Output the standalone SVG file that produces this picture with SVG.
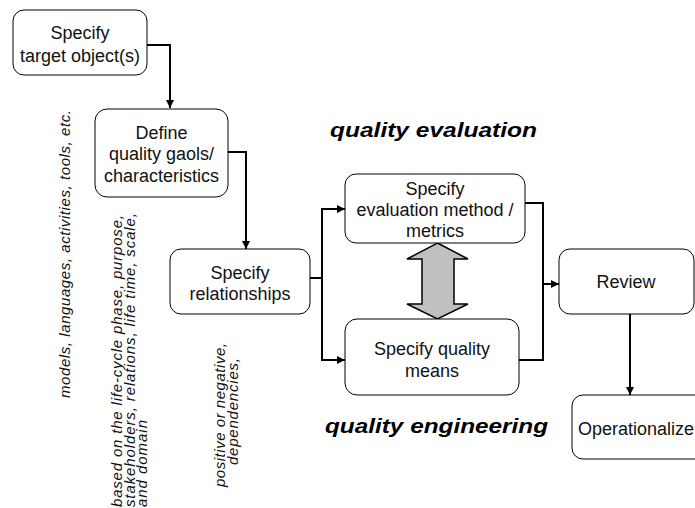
<svg xmlns="http://www.w3.org/2000/svg" width="695" height="508" viewBox="0 0 695 508">
<defs>
<style>
.box{fill:#fff;stroke:#000;stroke-width:1}
.t{font-family:"Liberation Sans",Arial,sans-serif;font-size:18px;fill:#111;text-anchor:middle}
.title{font-family:"Liberation Sans",Arial,sans-serif;font-size:21px;font-weight:bold;font-style:italic;fill:#000}
.note{font-family:"Liberation Sans",Arial,sans-serif;font-size:15px;font-style:italic;fill:#111}
.c{fill:none;stroke:#000;stroke-width:2}
</style>
<marker id="ah" viewBox="0 0 8 8" refX="8" refY="4" markerWidth="4" markerHeight="4" orient="auto-start-reverse" markerUnits="strokeWidth">
<path d="M0,0 L8,4 L0,8 Z" fill="#000"/>
</marker>
</defs>
<rect width="695" height="508" fill="#fff"/>
<g id="connectors">
<path class="c" d="M147,45 H170 V108" marker-end="url(#ah)"/>
<path class="c" d="M228,152 H246 V249" marker-end="url(#ah)"/>
<path class="c" d="M310,278 H322"/>
<path class="c" d="M345,209 H322 V360 H345" marker-start="url(#ah)" marker-end="url(#ah)"/>
<path class="c" d="M525,203 H543 V360 H519"/>
<path class="c" d="M543,284 H559" marker-end="url(#ah)"/>
<path class="c" d="M630,314 V395" marker-end="url(#ah)"/>
<polygon id="double-arrow" points="437.5,243 468,259 454,259 454,304 468,304 437.5,319 407,304 422,304 422,259 407,259" fill="#c0c0c0" stroke="#000" stroke-width="1.5"/>
</g>
<g id="n1"><rect class="box" x="13" y="10" width="134" height="65" rx="11"/>
<text class="t" x="80" y="39">Specify</text><text class="t" x="80" y="62">target object(s)</text></g>
<g id="n2"><rect class="box" x="95" y="109" width="133" height="88" rx="12"/>
<text class="t" x="161.5" y="139">Define</text><text class="t" x="161.5" y="160">quality gaols/</text><text class="t" x="161.5" y="182">characteristics</text></g>
<g id="n3"><rect class="box" x="170" y="249" width="140" height="65" rx="11"/>
<text class="t" x="240" y="279">Specify</text><text class="t" x="240" y="300">relationships</text></g>
<g id="n4"><rect class="box" x="345" y="174" width="180" height="69" rx="11"/>
<text class="t" x="435" y="195">Specify</text><text class="t" x="435" y="216">evaluation method /</text><text class="t" x="435" y="237">metrics</text></g>
<g id="n5"><rect class="box" x="345" y="319" width="174" height="76" rx="12"/>
<text class="t" x="432" y="355">Specify quality</text><text class="t" x="432" y="377">means</text></g>
<g id="n6"><rect class="box" x="559" y="249" width="135" height="65" rx="11"/>
<text class="t" x="626" y="288">Review</text></g>
<g id="n7"><rect class="box" x="572" y="395" width="140" height="64" rx="11"/>
<text class="t" x="578" y="435" style="text-anchor:start">Operationalize</text></g>
<g id="labels">
<text class="title" x="330" y="137" textLength="207" lengthAdjust="spacingAndGlyphs">quality evaluation</text>
<text class="title" x="325" y="433" textLength="223" lengthAdjust="spacingAndGlyphs">quality engineering</text>
<text class="note" transform="translate(70,398) rotate(-90)" textLength="288" lengthAdjust="spacing">models, languages, activities, tools, etc.</text>
<text class="note" transform="translate(122,507) rotate(-90)" textLength="292" lengthAdjust="spacing">based on the life-cycle phase, purpose,</text>
<text class="note" transform="translate(134.5,507) rotate(-90)" textLength="294" lengthAdjust="spacing">stakeholders, relations, life time, scale,</text>
<text class="note" transform="translate(147,507) rotate(-90)" textLength="87" lengthAdjust="spacing">and domain</text>
<text class="note" transform="translate(225,487) rotate(-90)" textLength="144" lengthAdjust="spacing">positive or negative,</text>
<text class="note" transform="translate(237.5,465) rotate(-90)" textLength="107" lengthAdjust="spacing">dependencies,</text>
</g>
</svg>
